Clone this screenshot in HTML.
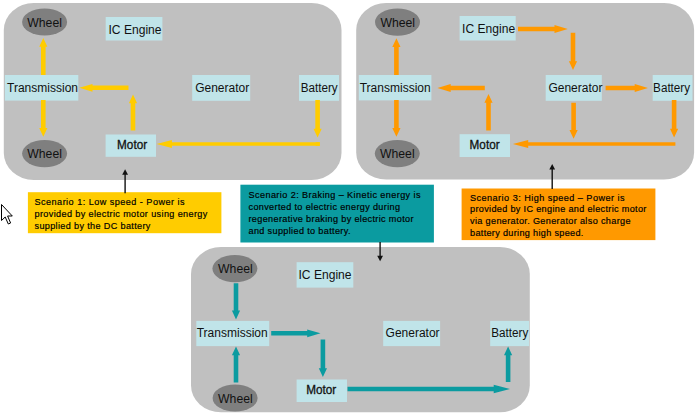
<!DOCTYPE html>
<html><head><meta charset="utf-8"><title>Hybrid scenarios</title>
<style>
html,body{margin:0;padding:0;background:#fff;}
svg{display:block}
.l{font-family:"Liberation Sans",sans-serif;font-size:12px;fill:#111;}
.s{font-family:"Liberation Sans",sans-serif;font-size:9.1px;fill:#000;stroke:#000;stroke-width:0.18px;}
</style></head><body>
<svg width="700" height="417" viewBox="0 0 700 417">
<rect width="700" height="417" fill="#fff"/>
<rect x="3.8" y="3.0" width="337.7" height="177.0" rx="30" ry="27" fill="#c0c0c0"/>
<rect x="356.2" y="3.0" width="337.9" height="176.6" rx="30" ry="27" fill="#c0c0c0"/>
<rect x="191.0" y="247.0" width="338.8" height="165.3" rx="30" ry="27" fill="#c0c0c0"/>
<ellipse cx="44.6" cy="22.0" rx="22.5" ry="13.6" fill="#7f7f7f"/><text x="44.6" y="26.8" text-anchor="middle" class="l" textLength="34.6" lengthAdjust="spacingAndGlyphs">Wheel</text>
<ellipse cx="44.6" cy="153.6" rx="22.5" ry="13.6" fill="#7f7f7f"/><text x="44.6" y="158.4" text-anchor="middle" class="l" textLength="34.6" lengthAdjust="spacingAndGlyphs">Wheel</text>
<rect x="105.7" y="17.0" width="56.7" height="23.5" fill="#c0e4e9"/><text x="135.0" y="33.9" text-anchor="middle" class="l" textLength="53.0" lengthAdjust="spacingAndGlyphs">IC Engine</text>
<rect x="4.9" y="75.0" width="73.4" height="25.6" fill="#c0e4e9"/><text x="42.5" y="91.9" text-anchor="middle" class="l" textLength="71.0" lengthAdjust="spacingAndGlyphs">Transmission</text>
<rect x="192.2" y="75.0" width="58.0" height="25.8" fill="#c0e4e9"/><text x="222.2" y="91.9" text-anchor="middle" class="l" textLength="54.0" lengthAdjust="spacingAndGlyphs">Generator</text>
<rect x="299.0" y="75.0" width="40.0" height="25.8" fill="#c0e4e9"/><text x="319.2" y="91.9" text-anchor="middle" class="l" textLength="37.0" lengthAdjust="spacingAndGlyphs">Battery</text>
<rect x="105.6" y="134.5" width="50.4" height="22.3" fill="#c0e4e9"/><text x="132.1" y="149.2" text-anchor="middle" class="l" stroke="#111" stroke-width="0.3" textLength="30" lengthAdjust="spacingAndGlyphs">Motor</text>
<polygon fill="#ffcc00" points="45.6,75.0 45.6,46.8 47.4,46.8 43.3,38.0 39.2,46.8 41.0,46.8 41.0,75.0"/>
<polygon fill="#ffcc00" points="41.0,100.0 41.0,128.0 39.2,128.0 43.3,136.8 47.4,128.0 45.6,128.0 45.6,100.0"/>
<polygon fill="#ffcc00" points="135.3,130.5 135.3,103.2 137.1,103.2 133.0,94.4 128.9,103.2 130.7,103.2 130.7,130.5"/>
<polygon fill="#ffcc00" points="128.5,85.5 92.5,85.5 92.5,83.9 79.2,87.8 92.5,91.7 92.5,90.1 128.5,90.1"/>
<polygon fill="#ffcc00" points="315.3,100.0 315.3,128.7 313.5,128.7 317.6,137.5 321.7,128.7 319.9,128.7 319.9,100.0"/>
<rect x="315.6" y="142.2" width="4.2" height="3.6" fill="#ffcc00"/>
<polygon fill="#ffcc00" points="319.8,142.2 171.9,142.2 171.9,139.9 156.6,144.0 171.9,148.1 171.9,145.8 319.8,145.8"/>
<ellipse cx="397.5" cy="22.1" rx="22.5" ry="13.6" fill="#7f7f7f"/><text x="397.7" y="26.9" text-anchor="middle" class="l" textLength="34.6" lengthAdjust="spacingAndGlyphs">Wheel</text>
<ellipse cx="397.3" cy="153.6" rx="22.5" ry="13.6" fill="#7f7f7f"/><text x="397.3" y="158.4" text-anchor="middle" class="l" textLength="34.6" lengthAdjust="spacingAndGlyphs">Wheel</text>
<rect x="459.6" y="16.0" width="56.1" height="24.5" fill="#c0e4e9"/><text x="488.6" y="32.9" text-anchor="middle" class="l" textLength="53.0" lengthAdjust="spacingAndGlyphs">IC Engine</text>
<rect x="358.8" y="75.0" width="72.6" height="25.4" fill="#c0e4e9"/><text x="395.2" y="91.9" text-anchor="middle" class="l" textLength="71.0" lengthAdjust="spacingAndGlyphs">Transmission</text>
<rect x="545.7" y="75.0" width="56.1" height="25.8" fill="#c0e4e9"/><text x="575.4" y="91.9" text-anchor="middle" class="l" textLength="54.0" lengthAdjust="spacingAndGlyphs">Generator</text>
<rect x="652.7" y="75.0" width="39.8" height="25.8" fill="#c0e4e9"/><text x="671.6" y="91.9" text-anchor="middle" class="l" textLength="37.0" lengthAdjust="spacingAndGlyphs">Battery</text>
<rect x="459.6" y="134.2" width="50.4" height="22.8" fill="#c0e4e9"/><text x="484.6" y="149.2" text-anchor="middle" class="l" stroke="#111" stroke-width="0.3" textLength="30" lengthAdjust="spacingAndGlyphs">Motor</text>
<polygon fill="#ff9900" points="398.7,75.0 398.7,47.0 400.5,47.0 396.4,38.2 392.3,47.0 394.1,47.0 394.1,75.0"/>
<polygon fill="#ff9900" points="394.1,100.0 394.1,128.0 392.3,128.0 396.4,136.8 400.5,128.0 398.7,128.0 398.7,100.0"/>
<polygon fill="#ff9900" points="490.8,130.5 490.8,102.7 492.6,102.7 488.5,93.9 484.4,102.7 486.2,102.7 486.2,130.5"/>
<polygon fill="#ff9900" points="484.8,85.7 450.7,85.7 450.7,84.1 437.4,88.0 450.7,91.9 450.7,90.3 484.8,90.3"/>
<polygon fill="#ff9900" points="518.0,31.3 554.5,31.3 554.5,32.9 567.8,29.0 554.5,25.1 554.5,26.7 518.0,26.7"/>
<polygon fill="#ff9900" points="570.7,32.7 570.7,61.3 568.9,61.3 573.0,70.1 577.1,61.3 575.3,61.3 575.3,32.7"/>
<polygon fill="#ff9900" points="605.6,90.3 634.7,90.3 634.7,91.9 648.0,88.0 634.7,84.1 634.7,85.7 605.6,85.7"/>
<polygon fill="#ff9900" points="571.3,102.7 571.3,130.0 569.5,130.0 573.6,138.8 577.7,130.0 575.9,130.0 575.9,102.7"/>
<polygon fill="#ff9900" points="671.8,100.0 671.8,128.7 670.0,128.7 674.1,137.5 678.2,128.7 676.4,128.7 676.4,100.0"/>
<polygon fill="#ff9900" points="675.4,142.2 528.2,142.2 528.2,139.9 512.9,144.0 528.2,148.1 528.2,145.8 675.4,145.8"/>
<ellipse cx="234.9" cy="268.6" rx="22.5" ry="13.6" fill="#7f7f7f"/><text x="235.4" y="273.4" text-anchor="middle" class="l" textLength="34.6" lengthAdjust="spacingAndGlyphs">Wheel</text>
<ellipse cx="235.1" cy="398.0" rx="22.5" ry="13.6" fill="#7f7f7f"/><text x="235.4" y="402.8" text-anchor="middle" class="l" textLength="34.6" lengthAdjust="spacingAndGlyphs">Wheel</text>
<rect x="296.6" y="262.2" width="56.7" height="25.4" fill="#c0e4e9"/><text x="325.0" y="279.1" text-anchor="middle" class="l" textLength="53.0" lengthAdjust="spacingAndGlyphs">IC Engine</text>
<rect x="196.3" y="320.9" width="72.9" height="25.2" fill="#c0e4e9"/><text x="232.2" y="336.7" text-anchor="middle" class="l" textLength="71.0" lengthAdjust="spacingAndGlyphs">Transmission</text>
<rect x="383.2" y="320.9" width="56.9" height="25.2" fill="#c0e4e9"/><text x="412.6" y="336.7" text-anchor="middle" class="l" textLength="54.0" lengthAdjust="spacingAndGlyphs">Generator</text>
<rect x="490.2" y="320.9" width="38.9" height="25.2" fill="#c0e4e9"/><text x="509.8" y="336.7" text-anchor="middle" class="l" textLength="37.0" lengthAdjust="spacingAndGlyphs">Battery</text>
<rect x="296.6" y="379.5" width="50.4" height="22.5" fill="#c0e4e9"/><text x="321.2" y="394.4" text-anchor="middle" class="l" stroke="#111" stroke-width="0.3" textLength="30" lengthAdjust="spacingAndGlyphs">Motor</text>
<polygon fill="#0b9ba0" points="233.7,283.3 233.7,310.6 231.9,310.6 236.0,319.4 240.1,310.6 238.3,310.6 238.3,283.3"/>
<polygon fill="#0b9ba0" points="238.3,382.5 238.3,355.3 240.1,355.3 236.0,346.5 231.9,355.3 233.7,355.3 233.7,382.5"/>
<polygon fill="#0b9ba0" points="271.2,335.6 307.2,335.6 307.2,337.2 320.5,333.3 307.2,329.4 307.2,331.0 271.2,331.0"/>
<polygon fill="#0b9ba0" points="320.6,339.5 320.6,368.2 318.8,368.2 322.9,377.0 327.0,368.2 325.2,368.2 325.2,339.5"/>
<polygon fill="#0b9ba0" points="347.5,391.2 493.7,391.2 493.7,393.2 510.0,389.0 493.7,384.8 493.7,386.8 347.5,386.8"/>
<polygon fill="#0b9ba0" points="510.4,382.0 510.4,355.3 512.2,355.3 508.1,346.5 504.0,355.3 505.8,355.3 505.8,382.0"/>
<rect x="27.9" y="192.2" width="193.5" height="41" fill="#ffcc00"/>
<rect x="240.4" y="184.7" width="193.5" height="57.8" fill="#0b9ba0"/>
<rect x="461.6" y="188.5" width="193.8" height="51.6" fill="#ff9900"/>
<text x="34.5" y="205.4" class="s" textLength="150.0" lengthAdjust="spacing">Scenario 1: Low speed - Power is</text><text x="34.5" y="217.1" class="s" textLength="172.8" lengthAdjust="spacing">provided by electric motor using energy</text><text x="34.5" y="228.8" class="s" textLength="115.9" lengthAdjust="spacing">supplied by the DC battery</text>
<text x="248.5" y="198.1" class="s" textLength="172.0" lengthAdjust="spacing">Scenario 2: Braking – Kinetic energy is</text><text x="248.5" y="210.0" class="s" textLength="151.5" lengthAdjust="spacing">converted to electric energy during</text><text x="248.5" y="221.7" class="s" textLength="165.0" lengthAdjust="spacing">regenerative braking by electric motor</text><text x="248.5" y="233.5" class="s" textLength="102.0" lengthAdjust="spacing">and supplied to battery.</text>
<text x="470.0" y="201.0" class="s" textLength="154.5" lengthAdjust="spacing">Scenario 3: High speed – Power is</text><text x="470.0" y="212.1" class="s" textLength="176.4" lengthAdjust="spacing">provided by IC engine and electric motor</text><text x="470.0" y="224.1" class="s" textLength="160.5" lengthAdjust="spacing">via generator. Generator also charge</text><text x="470.0" y="235.8" class="s" textLength="113.4" lengthAdjust="spacing">battery during high speed.</text>
<path d="M125.1,193.2 L125.1,173.2" stroke="#111" stroke-width="1.4" fill="none"/><polygon fill="#111" points="125.1,169.2 122.2,174.8 128.0,174.8"/>
<path d="M552.2,189.0 L552.2,168.0" stroke="#111" stroke-width="1.4" fill="none"/><polygon fill="#111" points="552.2,164.0 549.3,169.6 555.1,169.6"/>
<path d="M380.1,242.0 L380.1,257.3" stroke="#111" stroke-width="1.4" fill="none"/><polygon fill="#111" points="380.1,261.3 377.2,255.7 383.0,255.7"/>
<path d="M1.5,204.5 L1.5,220.5 L5.2,217 L8.3,224 L10.6,223 L7.6,216 L12.3,216 Z" fill="#fff" stroke="#000" stroke-width="1"/>
</svg>
</body></html>
